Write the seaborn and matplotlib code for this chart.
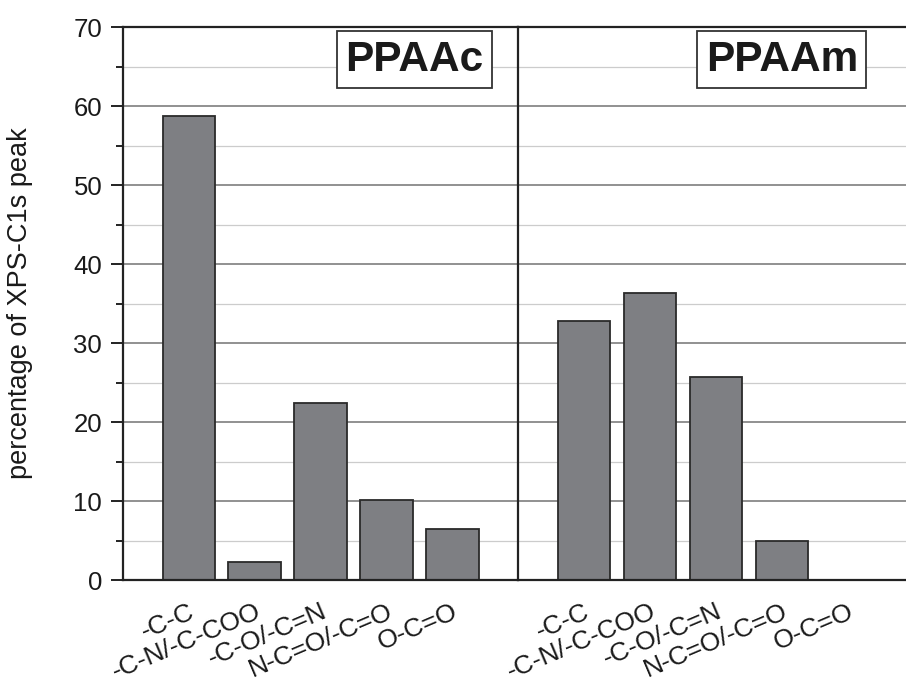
import matplotlib
matplotlib.use('Agg')
import matplotlib.pyplot as plt
import numpy as np
import seaborn as sns
from matplotlib.ticker import MultipleLocator

# XPS C1s component shares (%)
groups = ['PPAAc', 'PPAAm']
components = ['-C-C', '-C-N/-C-COO', '-C-O/-C=N', 'N-C=O/-C=O', 'O-C=O']
ppaac = [58.8, 2.3, 22.4, 10.1, 6.4]
ppaam = [32.8, 36.3, 25.7, 5.0, 0.0]

sns.set_theme(style='white')
plt.rcParams['font.family'] = ['Liberation Sans', 'DejaVu Sans']

fig = plt.figure(figsize=(9.06, 6.86), dpi=100)
ax1 = fig.add_axes([0.1358, 0.1545, 0.436, 0.8061])
ax2 = fig.add_axes([0.1358 + 0.436, 0.1545, 1 - 0.1358 - 0.436, 0.8061], sharey=ax1)

bar_color = '#7e7f83'
edge = '#2a2a2a'

for ax, vals, name, tx, xmax in [(ax1, ppaac, groups[0], 0.738, 5.0),
                                  (ax2, ppaam, groups[1], 0.68, 4.88)]:
    sns.barplot(x=components, y=vals, order=components, color=bar_color,
                edgecolor=edge, linewidth=1.3, width=0.8, saturation=1, ax=ax)
    ax.set_xlim(-1, xmax)
    ax.set_ylim(0, 70)
    ax.set_axisbelow(True)
    ax.yaxis.set_major_locator(MultipleLocator(10))
    ax.yaxis.set_minor_locator(MultipleLocator(5))
    ax.grid(axis='y', which='major', color='#737373', lw=1.1)
    ax.grid(axis='y', which='minor', color='#cccccc', lw=0.9)
    ax.set_xticks(range(-1, 5))
    ax.set_xticklabels([''] + components, rotation=23, ha='right', va='top',
                       rotation_mode='anchor', fontsize=19, color='#1a1a1a')
    ax.tick_params(axis='x', direction='out', length=9, width=1.4, color='#222222', pad=5)
    ax.set_xlabel('')
    for s in ax.spines.values():
        s.set_linewidth(1.6)
        s.set_color('#222222')
    ax.text(tx, 0.941, name, transform=ax.transAxes, ha='center', va='center',
            fontsize=30.5, fontweight='bold', color='#1a1a1a',
            bbox=dict(boxstyle='square,pad=0.2', fc='white', ec='#333333', lw=1.3))

ax1.spines['right'].set_visible(False)
ax2.spines['right'].set_visible(False)
ax1.tick_params(axis='y', which='major', direction='out', length=9, width=1.4,
                color='#222222', labelsize=18.5, labelcolor='#1a1a1a', left=True, pad=6)
ax1.tick_params(axis='y', which='minor', direction='out', length=5, width=1.4,
                color='#222222', left=True)
ax2.tick_params(axis='y', which='both', left=False, labelleft=False)
ax1.set_ylabel('percentage of XPS-C1s peak', fontsize=19.5, color='#1a1a1a', labelpad=29)
ax2.set_ylabel('')

fig.savefig('out.png', dpi=100)
